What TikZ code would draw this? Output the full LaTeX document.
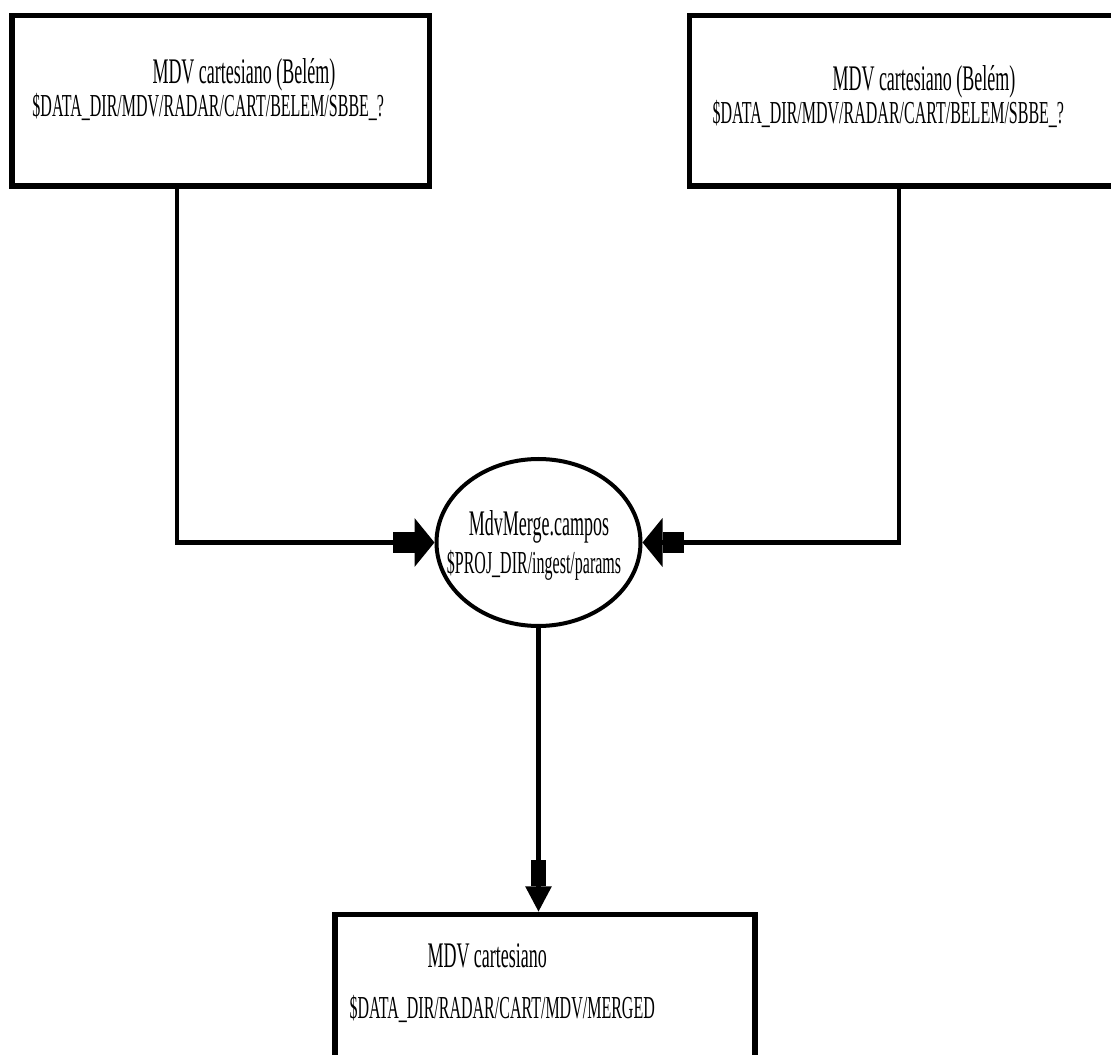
\documentclass[tikz,border=0pt]{standalone}
\usepackage{fontspec}
\setmainfont{Liberation Serif}[FakeStretch=0.5]
\usetikzlibrary{shapes.geometric,arrows.meta}

\tikzset{every picture/.style={line width=0.75pt}}
\tikzset{
  boxshape/.style={draw, rectangle, line width=4.1pt, inner sep=0pt},
  procshape/.style={draw, ellipse, line width=3pt, inner sep=0pt, minimum width=153pt, minimum height=125.25pt},
  flowline/.style={line width=3.4pt},
  harrow/.style={-{Rectangle[length=16pt,width=16pt]Triangle[length=15pt,width=36pt]}},
  varrow/.style={-{Rectangle[length=20pt,width=11pt]Triangle[length=19pt,width=19pt]}},
  titletext/.style={inner sep=0pt, anchor=base west, font=\fontsize{27}{30}\selectfont},
  pathtext/.style={inner sep=0pt, anchor=base west, font=\fontsize{24}{28}\selectfont}
}

\begin{document}
\begin{tikzpicture}[x=0.75pt,y=0.75pt,yscale=-1,xscale=1]
\useasboundingbox (0,0) rectangle (1111,1055);

%Shape: Rectangle [id:srcleft]
\node [boxshape, minimum width=313.1pt, minimum height=127.9pt] (srcleft) at (220.75,100.75) {};
%Shape: Rectangle [id:srcright]
\node [boxshape, minimum width=326.6pt, minimum height=127.9pt] (srcright) at (907.25,100.75) {};
%Shape: Ellipse [id:merge]
\node [procshape] (merge) at (538.5,542.5) {};
%Shape: Rectangle [id:merged]
\node [boxshape, minimum width=315pt, minimum height=120.4pt] (merged) at (545,994.75) {};

%Connector
\draw [flowline, harrow] (srcleft.south -| 177,0) |- (merge.west);
%Connector
\draw [flowline, harrow] (srcright.south -| 899,0) |- (merge.east);
%Connector
\draw [flowline, varrow] (merge.south) -- (merge.south |- merged.north);

% Text Node
\node [titletext] (srclefttitle) at (152,84) {MDV cartesiano (Belém)};
% Text Node
\node [pathtext] (srcleftpath) at (32,117) {\$DATA\_DIR/MDV/RADAR/CART/BELEM/SBBE\_?};
% Text Node
\node [titletext] (srcrighttitle) at (832,91) {MDV cartesiano (Belém)};
% Text Node
\node [pathtext] (srcrightpath) at (712,124) {\$DATA\_DIR/MDV/RADAR/CART/BELEM/SBBE\_?};
% Text Node
\node [titletext, anchor=base] (mergetitle) at (539,536) {MdvMerge.campos};
% Text Node
\node [pathtext, anchor=base] (mergepath) at (534,574) {\$PROJ\_DIR/ingest/params};
% Text Node
\node [titletext] (mergedtitle) at (427,967) {MDV cartesiano};
% Text Node
\node [pathtext] (mergedpath) at (349,1018) {\$DATA\_DIR/RADAR/CART/MDV/MERGED};
\end{tikzpicture}
\end{document}
